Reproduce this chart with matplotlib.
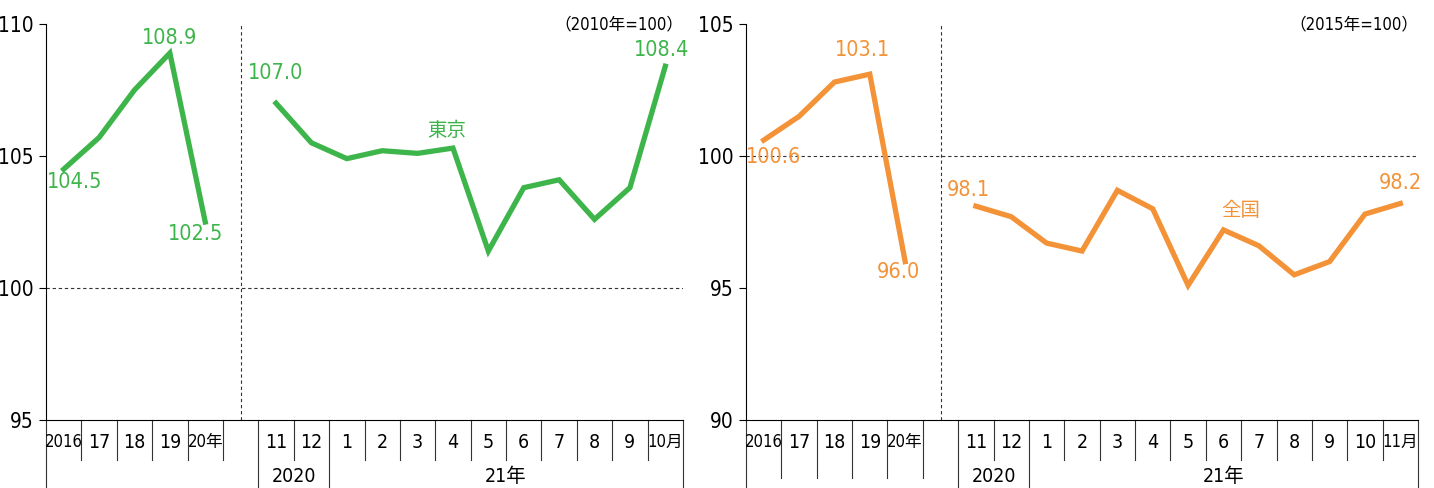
import matplotlib
matplotlib.use("Agg")
import matplotlib.pyplot as plt
import matplotlib.transforms as mtrans

plt.rcParams['font.family'] = ['DejaVu Sans', 'Noto Sans CJK JP']
plt.rcParams['font.stretch'] = 'condensed'

GREEN = "#3db54b"
ORANGE = "#f39237"

# Tokyo (2010=100)
tokyo_years = [104.5, 105.7, 107.5, 108.9, 102.5]
tokyo_months = [107.0, 105.5, 104.9, 105.2, 105.1, 105.3, 101.4, 103.8, 104.1, 102.6, 103.8, 108.4]
tokyo_labels = ['2016', '17', '18', '19', '20年', '', '11', '12', '1', '2', '3', '4', '5', '6', '7', '8', '9', '10月']

# national (2015=100)
zenkoku_years = [100.6, 101.5, 102.8, 103.1, 96.0]
zenkoku_months = [98.1, 97.7, 96.7, 96.4, 98.7, 98.0, 95.1, 97.2, 96.6, 95.5, 96.0, 97.8, 98.2]
zenkoku_labels = ['2016', '17', '18', '19', '20年', '', '11', '12', '1', '2', '3', '4', '5', '6', '7', '8', '9', '10', '11月']

W, H = 1434, 488
fig = plt.figure(figsize=(W / 100, H / 100), dpi=100)


def panel(rect, years, months, labels, color, ylim, unit, name, name_idx, name_off, annots, mid_len):
    ax = fig.add_axes([rect[0] / W, (H - rect[3]) / H, (rect[2] - rect[0]) / W, (rect[3] - rect[1]) / H])
    n = len(labels)
    xy = list(range(len(years)))
    xm = list(range(6, 6 + len(months)))
    ax.plot(xy, years, color=color, lw=3.8, solid_joinstyle='miter', zorder=3)
    ax.plot(xm, months, color=color, lw=3.8, solid_joinstyle='miter', zorder=3)
    ax.set_xlim(-0.5, n - 0.5)
    ax.set_ylim(*ylim)
    ax.set_yticks([ylim[0], ylim[0] + 5, ylim[0] + 10, ylim[1]])
    ax.tick_params(axis='y', labelsize=15, length=5, width=0.8, pad=4)
    ax.set_xticks([])
    for s in ['top', 'right']:
        ax.spines[s].set_visible(False)
    ax.spines['left'].set_linewidth(0.8)
    ax.spines['bottom'].set_linewidth(0.8)
    ax.axhline(100, color='#333333', lw=0.8, ls=(0, (3, 2.5)), zorder=1)
    ax.axvline(5, color='#333333', lw=0.8, ls=(0, (3, 2.5)), zorder=1)

    tr = mtrans.blended_transform_factory(ax.transData, ax.transAxes)
    hpx = rect[3] - rect[1]
    # category labels
    for i, lab in enumerate(labels):
        fs = 12 if (lab.endswith('月') or lab == '2016' or lab == '20年') else 14
        ax.text(i, -22 / hpx, lab, transform=tr, ha='center', va='center', fontsize=fs)
    # separators
    long_idx = {0, 6, 8, n}
    for i in range(n + 1):
        end = -68 / hpx if i in long_idx else mid_len(i) / hpx
        ax.plot([i - 0.5, i - 0.5], [0, end], transform=tr, color='#333333', lw=0.8, clip_on=False)
    ax.text(6.5, -56 / hpx, '2020', transform=tr, ha='center', va='center', fontsize=14)
    ax.text((8 + n - 1) / 2, -56 / hpx, '21年', transform=tr, ha='center', va='center', fontsize=14)

    ax.text(1.0, 1.0, unit, transform=ax.transAxes, ha='right', va='center', fontsize=12)

    allx = xy + xm
    ally = years + months
    for idx, (dx, dy) in annots:
        ax.annotate(f"{ally[idx]:.1f}", (allx[idx], ally[idx]), xytext=(dx, dy),
                    textcoords='offset pixels', ha='center', va='center', fontsize=15.5, color=color)
    ax.annotate(name, (allx[name_idx], ally[name_idx]), xytext=name_off,
                textcoords='offset pixels', ha='center', va='center', fontsize=14, color=color)
    return ax


panel((46, 24, 683, 420), tokyo_years, tokyo_months, tokyo_labels, GREEN, (95, 110),
      '（2010年=100）', '東京', 10, (-6, 18),
      [(0, (11, -13)), (3, (0, 15)), (4, (-10, -12)), (5, (0, 30)), (16, (-4, 16))],
      lambda i: -40)

panel((746, 24, 1418, 420), zenkoku_years, zenkoku_months, zenkoku_labels, ORANGE, (90, 105),
      '（2015年=100）', '全国', 12, (17, 19),
      [(0, (10, -17)), (3, (-7, 24)), (4, (-7, -10)), (5, (-8, 16)), (17, (0, 21))],
      lambda i: -58 if 1 <= i <= 5 else -40)

fig.savefig('out.png', dpi=100)
